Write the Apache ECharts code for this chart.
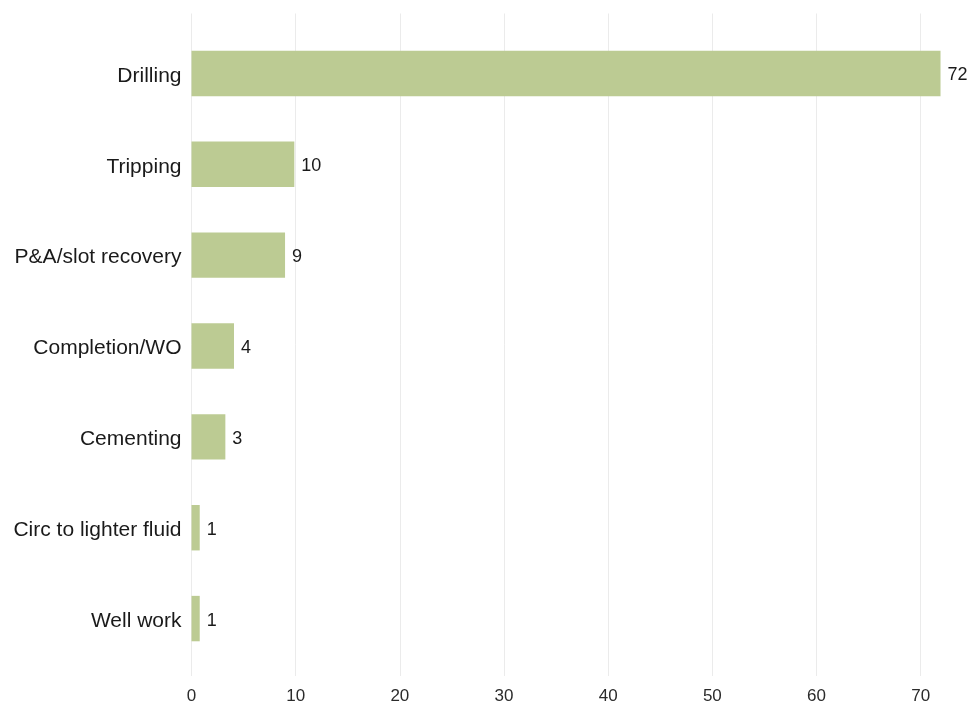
<!DOCTYPE html>
<html>
<head>
<meta charset="utf-8">
<script src="https://cdn.jsdelivr.net/npm/echarts@6/dist/echarts.min.js"></script>
<style>
html,body{margin:0;padding:0;background:#fff;}
#chart{width:971px;height:705px;}
</style>
</head>
<body>
<div id="chart"></div>
<script>
var categories = ["Drilling", "Tripping", "P&A/slot recovery", "Completion/WO", "Cementing", "Circ to lighter fluid", "Well work"];
var values = [71.9, 9.87, 8.98, 4.08, 3.25, 0.79, 0.79];
var xTicks = [0, 10, 20, 30, 40, 50, 60, 70];

var FONT = '"Liberation Sans", Arial, sans-serif';

var chart = echarts.init(document.getElementById('chart'));
chart.setOption({
  backgroundColor: '#ffffff',
  animation: false,
  grid: [
    {left: 191.5, right: 8.6, top: 28, bottom: 41, containLabel: false},
    {left: 191.5, right: 50.3, top: 13.5, bottom: 24.5, containLabel: false}
  ],
  xAxis: [
    {gridIndex: 0, type: 'value', min: 0, max: 74, show: false, splitLine: {show: false}},
    {gridIndex: 1, type: 'value', min: xTicks[0], max: xTicks[xTicks.length - 1], interval: 10,
      axisLine: {show: false}, axisTick: {show: false},
      splitLine: {show: true, lineStyle: {color: '#ebebeb', width: 1}},
      axisLabel: {
        fontFamily: FONT, fontSize: 17, color: '#2b2b2b', margin: 12
      }
    }
  ],
  yAxis: [
    {gridIndex: 0, type: 'category', data: categories, inverse: true,
      axisLine: {show: false}, axisTick: {show: false}, splitLine: {show: false},
      axisLabel: {
        margin: 10,
        formatter: function (v) { return '{c|' + v + '}'; },
        rich: {c: {fontFamily: FONT, fontSize: 21, color: '#1a1a1a', padding: [5, 0, 0, 0]}}
      }
    },
    {gridIndex: 1, type: 'value', min: 0, max: 1, show: false, splitLine: {show: false}}
  ],
  series: [
    {
      type: 'bar', xAxisIndex: 0, yAxisIndex: 0,
      data: values, barWidth: '50%',
      itemStyle: {color: '#bccb93'},
      label: {
        show: true, position: 'right', distance: 7, offset: [0, 2],
        fontFamily: FONT, fontSize: 18, color: '#1a1a1a',
        formatter: function (p) { return String(Math.round(p.value)); }
      }
    }
  ]
});
</script>
</body>
</html>
